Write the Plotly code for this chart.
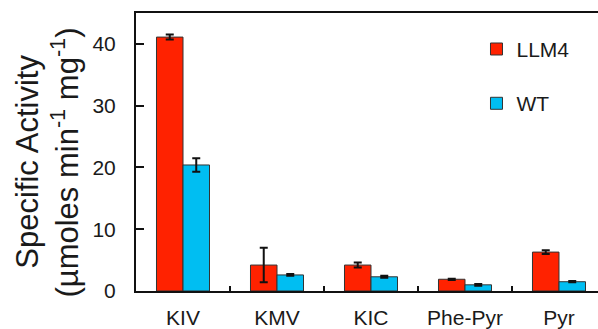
import plotly.graph_objects as go

categories = ["KIV", "KMV", "KIC", "Phe-Pyr", "Pyr"]
llm4_values = [41.1, 4.2, 4.2, 1.9, 6.3]
llm4_errors = [0.4, 2.8, 0.4, 0.1, 0.3]
wt_values = [20.4, 2.6, 2.3, 1.0, 1.5]
wt_errors = [1.1, 0.15, 0.15, 0.15, 0.1]
y_ticks = [0, 10, 20, 30, 40]
y_title_lines = ["Specific Activity", "(µmoles min<sup>-1</sup> mg<sup>-1</sup>)"]

FONT = "Liberation Sans, Arial, sans-serif"
TXT = "#1a1a1a"

fig = go.Figure()
fig.add_trace(go.Bar(
    x=categories, y=llm4_values, name="LLM4", legendgroup="a",
    marker=dict(color="#FF2200", line=dict(color="#333333", width=1)),
    error_y=dict(type="data", array=llm4_errors, color="#111111", thickness=2, width=4),
))
fig.add_trace(go.Bar(
    x=categories, y=wt_values, name="WT", legendgroup="b",
    marker=dict(color="#00BEF2", line=dict(color="#333333", width=1)),
    error_y=dict(type="data", array=wt_errors, color="#111111", thickness=2, width=4),
))

fig.update_layout(
    width=598, height=329,
    margin=dict(l=136, r=0, t=13, b=38, autoexpand=False),
    paper_bgcolor="white", plot_bgcolor="white",
    barmode="group", bargap=0.436, bargroupgap=0,
    font=dict(family=FONT, size=21, color=TXT),
    legend=dict(x=0.737, y=0.943, xanchor="left", yanchor="top",
                bgcolor="rgba(0,0,0,0)", tracegroupgap=24,
                font=dict(size=21, family=FONT, color=TXT)),
    showlegend=True,
)
fig.update_xaxes(
    type="category", range=[-0.5, 4.415], automargin=False,
    showline=True, linecolor="#111111", linewidth=2, mirror=True,
    ticks="inside", tickson="boundaries", ticklen=5, tickwidth=2, tickcolor="#111111",
    showgrid=False, zeroline=False,
    tickfont=dict(size=21, family=FONT, color=TXT),
    ticklabelstandoff=7,
)
fig.update_yaxes(
    range=[0, 45], tickvals=y_ticks, automargin=False,
    showline=True, linecolor="#111111", linewidth=2, mirror=False,
    ticks="inside", ticklen=8, tickwidth=2, tickcolor="#111111",
    showgrid=False, zeroline=False,
    tickfont=dict(size=21, family=FONT, color=TXT),
    ticklabelstandoff=14,
)
for text, xp, yp in zip(y_title_lines, [-0.2338, -0.1537], [0.465, 0.462]):
    fig.add_annotation(text=text, xref="paper", yref="paper", x=xp, y=yp,
                       xanchor="center", yanchor="middle", textangle=-90,
                       showarrow=False, font=dict(size=31, family=FONT, color=TXT))

fig.write_html("out.html", config={"displayModeBar": False},
               post_script="document.body.style.margin='0px';document.body.style.overflow='hidden';")
